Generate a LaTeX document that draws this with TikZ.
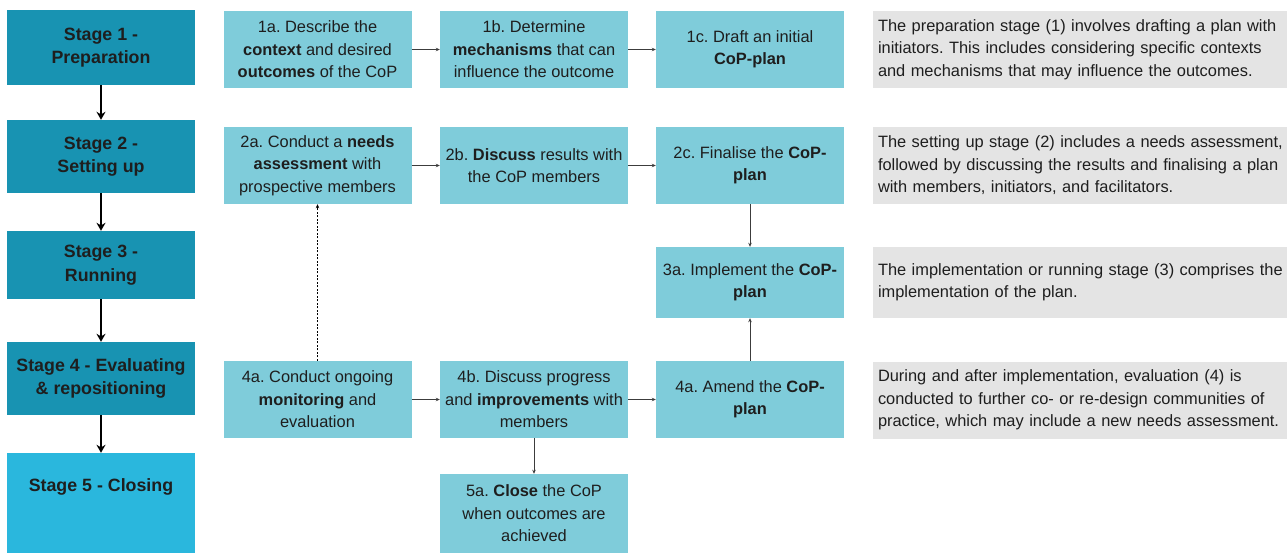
\documentclass[tikz,border=0pt]{standalone}
\usepackage{fontspec}
\setmainfont{Liberation Sans}
\usepackage{xcolor}
\usepackage{tikz}
\usetikzlibrary{arrows.meta,positioning}
\frenchspacing
\definecolor{StageC}{RGB}{24,147,178}
\definecolor{CloseC}{RGB}{42,183,221}
\definecolor{StepC}{RGB}{127,204,218}
\definecolor{NoteC}{RGB}{228,228,228}
\definecolor{InkC}{RGB}{30,30,30}
\definecolor{LinkC}{RGB}{60,60,60}
\tikzset{
  stagebox/.style={rectangle,fill=StageC,text=InkC,minimum width=188pt,inner sep=2pt,
                   align=center,font=\fontsize{17.8}{23.5}\selectfont\bfseries},
  stepbox/.style={rectangle,fill=StepC,text=InkC,minimum width=188pt,minimum height=77pt,
                  inner sep=2pt,align=center,font=\fontsize{16.4}{22.5}\selectfont},
  notebox/.style={rectangle,fill=NoteC,text=InkC,text width=414pt,inner xsep=5pt,
                  minimum height=77pt,align=left,font=\fontsize{16.4}{22.5}\selectfont},
  stagearr/.style={-{Stealth[length=8pt,width=9pt]},line width=2pt,black},
  flow/.style={-{Stealth[length=4pt,width=3.5pt]},line width=1pt,LinkC},
  loopback/.style={-{Stealth[length=4pt,width=3.5pt]},line width=0.9pt,black,
                   dash pattern=on 2pt off 1.5pt},
}

\begin{document}
\begin{tikzpicture}[x=1pt,y=-1pt]
  \useasboundingbox (0,0) rectangle (1287,553);
  % stages
  \node[stagebox,minimum height=75pt] (s1) at (101,47.5) {Stage 1 -\\Preparation};
  \node[stagebox,minimum height=73pt] (s2) at (101,156.5) {Stage 2 -\\Setting up};
  \node[stagebox,minimum height=68pt] (s3) at (101,265) {Stage 3 -\\Running};
  \node[stagebox,minimum height=73pt] (s4) at (101,378.5) {Stage 4 - Evaluating\\\& repositioning};
  \node[stagebox,fill=CloseC,minimum height=100pt,text height=13pt,text depth=36pt]
       (s5) at (101,503) {Stage 5 - Closing};
  \foreach \a/\b in {s1/s2,s2/s3,s3/s4,s4/s5}
    \draw[stagearr] (\a) -- (\b);
  % steps
  \node[stepbox] (p1a) at (317.5,49.5) {1a. Describe the\\\textbf{context} and desired\\\textbf{outcomes} of the CoP};
  \node[stepbox] (p1b) at (534,49.5) {1b. Determine\\\textbf{mechanisms} that can\\influence the outcome};
  \node[stepbox] (p1c) at (750,49.5) {1c. Draft an initial\\\textbf{CoP-plan}};
  \node[stepbox] (p2a) at (317.5,165.5) {2a. Conduct a \textbf{needs}\\\textbf{assessment} with\\prospective members};
  \node[stepbox] (p2b) at (534,165.5) {2b. \textbf{Discuss} results with\\the CoP members};
  \node[stepbox] (p2c) at (750,165.5) {2c. Finalise the \textbf{CoP-}\\\textbf{plan}};
  \node[stepbox,minimum height=71pt] (p3a) at (750,282.5) {3a. Implement the \textbf{CoP-}\\\textbf{plan}};
  \node[stepbox] (p4a) at (317.5,399.5) {4a. Conduct ongoing\\\textbf{monitoring} and\\evaluation};
  \node[stepbox] (p4b) at (534,399.5) {4b. Discuss progress\\and \textbf{improvements} with\\members};
  \node[stepbox] (p4c) at (750,399.5) {4a. Amend the \textbf{CoP-}\\\textbf{plan}};
  \node[stepbox,minimum height=79pt] (p5a) at (534,513.5) {5a. \textbf{Close} the CoP\\when outcomes are\\achieved};
  \draw[flow] (p1a) -- (p1b); \draw[flow] (p1b) -- (p1c);
  \draw[flow] (p2a) -- (p2b); \draw[flow] (p2b) -- (p2c);
  \draw[flow] (p4a) -- (p4b); \draw[flow] (p4b) -- (p4c);
  \draw[flow] (p2c) -- (p3a); \draw[flow] (p4c) -- (p3a);
  \draw[flow] (p4b) -- (p5a);
  \draw[loopback] (p4a) -- (p2a);
  % notes
  \node[notebox] (n1) at (1085,49.5) {The preparation stage (1) involves drafting a plan with\\initiators. This includes considering specific contexts\\and mechanisms that may influence the outcomes.};
  \node[notebox] (n2) at (1085,165.5) {The setting up stage (2) includes a needs assessment,\\followed by discussing the results and finalising a plan\\with members, initiators, and facilitators.};
  \node[notebox,minimum height=71pt] (n3) at (1085,282.5) {The implementation or running stage (3) comprises the\\implementation of the plan.};
  \node[notebox] (n4) at (1085,400) {During and after implementation, evaluation (4) is\\conducted to further co- or re-design communities of\\practice, which may include a new needs assessment.};
\end{tikzpicture}
\end{document}
